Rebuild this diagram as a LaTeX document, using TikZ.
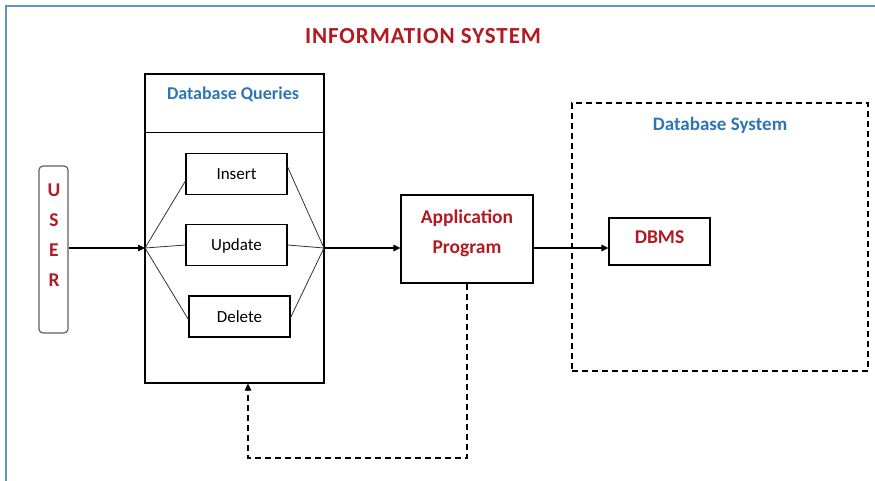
\documentclass[tikz,border=0pt]{standalone}
\usepackage{fontspec}
\setmainfont{Carlito}
\usepackage{xcolor}
\usepackage{tikz}
\usetikzlibrary{arrows.meta}

\definecolor{sysred}{RGB}{178,26,34}
\definecolor{sysblue}{RGB}{46,117,182}
\definecolor{framblue}{RGB}{98,146,206}
\definecolor{usergray}{RGB}{95,95,95}

\begin{document}
\begin{tikzpicture}[x=1pt, y=-1pt, >={Triangle[length=7pt,width=6.5pt]},
    box/.style={draw, line width=1.2pt, inner sep=0pt},
    opbox/.style={box, minimum width=101pt, minimum height=41pt, text depth=0pt, font=\fontsize{17}{20}\selectfont},
    redtext/.style={text=sysred, font=\fontsize{19.5}{30}\selectfont\bfseries, align=center},
    bluetext/.style={text=sysblue, font=\fontsize{18}{22}\selectfont\bfseries},
    dashline/.style={line width=1.3pt, dash pattern=on 6pt off 4pt},
    fanline/.style={line width=0.8pt, black!80}]
    \clip (0,0) rectangle (875,480);
    \draw[framblue, line width=2pt] (6.3,6) rectangle (900,520);

    \node[text=sysred, font=\fontsize{23}{27}\selectfont\bfseries\addfontfeature{LetterSpace=4}] (title) at (423,36) {INFORMATION SYSTEM};

    \node[draw=usergray, line width=1.2pt, rounded corners=4pt, minimum width=29pt, minimum height=167pt] (user) at (53.5,249.5) {};
    \node[redtext] (userlbl) at (54,235) {U\\S\\E\\R};

    \node[box, minimum width=179pt, minimum height=309pt] (queries) at (234.5,228.5) {};
    \draw[line width=1pt] (queries.north west) ++(0,59) -- ++(179,0);
    \node[bluetext] (qtitle) at (233,94) {Database Queries};
    \node[opbox] (insert) at (236.5,174) {Insert};
    \node[opbox] (update) at (236.5,245) {Update};
    \node[opbox] (delete) at (239.5,316.5) {Delete};
    \coordinate (qin) at (145,248);
    \coordinate (qout) at (324,248);
    \draw[fanline] (qin) -- ([yshift=-7pt]insert.west);
    \draw[fanline] ([yshift=7pt]insert.east) -- (qout);
    \draw[fanline] (qin) -- (update.west);
    \draw[fanline] (update.east) -- (qout);
    \draw[fanline] (qin) -- ([yshift=-3pt]delete.west);
    \draw[fanline] ([yshift=-1pt]delete.east) -- (qout);

    \node[box, minimum width=132pt, minimum height=88pt] (app) at (467,239) {};
    \node[redtext] (applbl) at (467,233) {Application\\Program};

    \node[draw, dashline, minimum width=296pt, minimum height=268pt] (dbsys) at (720,237) {};
    \node[bluetext, font=\fontsize{19}{23}\selectfont\bfseries] (dbtitle) at (720,125) {Database System};
    \node[box, minimum width=101pt, minimum height=47pt] (dbms) at (659.5,241.5) {};
    \node[redtext] (dbmslbl) at (659.5,237.5) {DBMS};

    \draw[->, line width=1.2pt] (user.east |- qin) -- (qin);
    \draw[->, line width=1.2pt] (qout) -- (qout -| app.west);
    \draw[->, line width=1.2pt] (app.east |- qout) -- (qout -| dbms.west);

    \coordinate (loopfoot) at (248,458);
    \draw[->, dashline] (app.south) |- (loopfoot) -- (loopfoot |- queries.south);
\end{tikzpicture}
\end{document}
